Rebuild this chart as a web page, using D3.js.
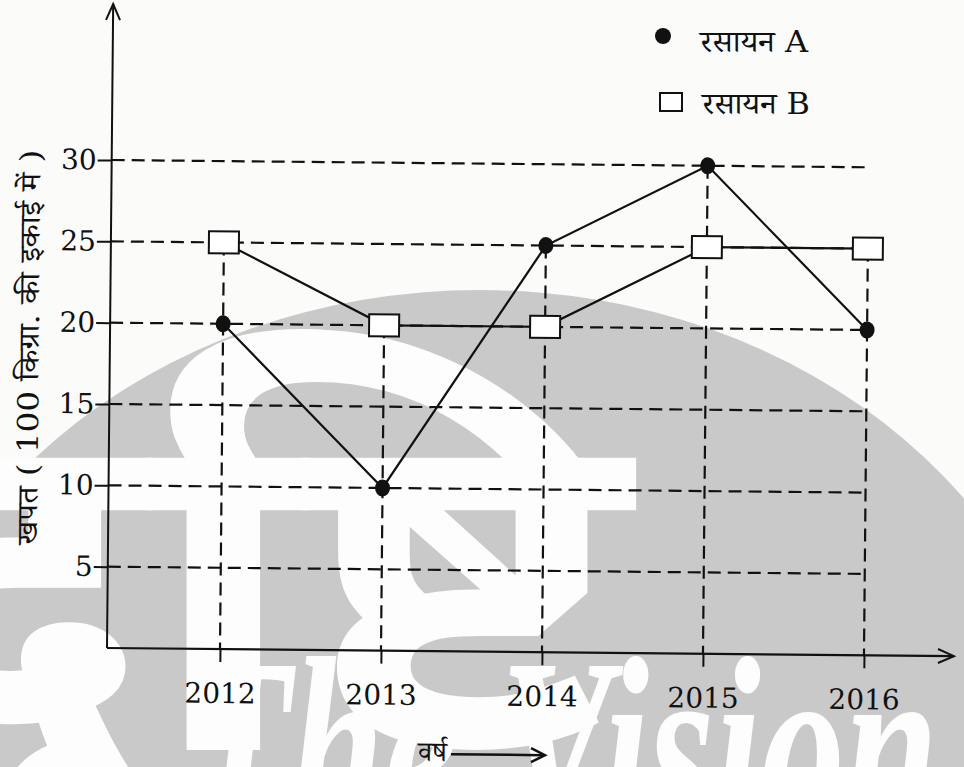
<!DOCTYPE html>
<html><head><meta charset="utf-8">
<script src="https://cdn.jsdelivr.net/npm/d3@7"></script>
<style>body{margin:0;background:#fff}svg{display:block}</style>
</head><body>
<svg id="c" width="964" height="767"></svg>
<script>
const years = ["2012", "2013", "2014", "2015", "2016"];
const chemA = [20, 10, 25, 30, 20];
const chemB = [25, 20, 20, 25, 25];
const yTicks = [5, 10, 15, 20, 25, 30];
const legendLabels = ["रसायन A", "रसायन B"];
const yTitle = "खपत ( 100 किग्रा. की इकाई में )";
const xTitle = "वर्ष";
const wmText1 = "दृष्टि";
const wmText2 = "The Vision";

const serif = "'DejaVu Serif', 'Noto Serif Devanagari', 'Noto Sans Devanagari', serif";
const svg = d3.select("#c");
svg.append("rect").attr("width", 964).attr("height", 767).attr("fill", "#fbfbfa");

// watermark
const wm = svg.append("g");
wm.append("ellipse").attr("cx", 480).attr("cy", 800).attr("rx", 600).attr("ry", 510).attr("fill", "#c9c9c9");
wm.append("text").text(wmText1)
  .attr("transform", "translate(-150,750) scale(1.12,1)")
  .attr("font-family", "'Noto Sans Devanagari', 'Noto Sans', sans-serif").attr("font-weight", "bold")
  .attr("font-size", 470).attr("fill", "#fdfdfd");
wm.append("text").text(wmText2).attr("x", 188).attr("y", 830)
  .attr("font-family", "'Liberation Serif', serif").attr("font-weight", "bold").attr("font-style", "italic")
  .attr("font-size", 250).attr("textLength", 750).attr("lengthAdjust", "spacingAndGlyphs").attr("fill", "#fdfdfd");

const x = d3.scalePoint().domain(years).range([220, 864]);
const y = d3.scaleLinear().domain([0, 30]).range([648, 160]);
const x0 = 107;

const g = svg.append("g").attr("transform", "rotate(0.55," + x0 + "," + y(0) + ")");

const dash = "13,7";
// horizontal grid
g.append("g").selectAll("line").data(yTicks).join("line")
  .attr("x1", x0).attr("x2", x(years[years.length - 1]))
  .attr("y1", d => y(d)).attr("y2", d => y(d))
  .attr("stroke", "#111").attr("stroke-width", 2.2).attr("stroke-dasharray", dash);
// vertical grid
g.append("g").selectAll("line").data(years).join("line")
  .attr("x1", d => x(d)).attr("x2", d => x(d))
  .attr("y1", (d, i) => y(Math.max(chemA[i], chemB[i]))).attr("y2", y(0))
  .attr("stroke", "#111").attr("stroke-width", 2.2).attr("stroke-dasharray", dash);

// y axis
const ya = g.append("g").attr("transform", "translate(" + x0 + ",0)")
  .call(d3.axisLeft(y).tickValues(yTicks).tickSize(14).tickPadding(1));
ya.select(".domain").remove();
ya.selectAll(".tick line").attr("stroke", "#111").attr("stroke-width", 2);
ya.selectAll(".tick text").attr("font-family", serif).attr("font-size", 28).attr("fill", "#111");

// x axis
const xa = g.append("g").attr("transform", "translate(0," + y(0) + ")")
  .call(d3.axisBottom(x).tickSize(13).tickPadding(21));
xa.select(".domain").remove();
xa.selectAll(".tick line").attr("stroke", "#111").attr("stroke-width", 2);
xa.selectAll(".tick text").attr("font-family", serif).attr("font-size", 28).attr("fill", "#111");

// axis lines with arrows
g.append("line").attr("x1", x0).attr("x2", x0).attr("y1", y(0)).attr("y2", 4)
  .attr("stroke", "#111").attr("stroke-width", 2);
g.append("path").attr("d", `M${x0 - 7},20 L${x0},4 L${x0 + 7},20`).attr("fill", "none").attr("stroke", "#111").attr("stroke-width", 2);
g.append("line").attr("x1", x0).attr("x2", 954).attr("y1", y(0)).attr("y2", y(0))
  .attr("stroke", "#111").attr("stroke-width", 2.2);
g.append("path").attr("d", `M938,${y(0) - 7} L954,${y(0)} L938,${y(0) + 7}`).attr("fill", "none").attr("stroke", "#111").attr("stroke-width", 2);

// series lines
const line = d3.line().x((d, i) => x(years[i])).y(d => y(d));
g.append("path").datum(chemA).attr("d", line).attr("fill", "none").attr("stroke", "#111").attr("stroke-width", 2.2);
g.append("path").datum(chemB).attr("d", line).attr("fill", "none").attr("stroke", "#111").attr("stroke-width", 2.2);

// markers
g.append("g").selectAll("rect").data(chemB).join("rect")
  .attr("x", (d, i) => x(years[i]) - 15).attr("y", d => y(d) - 11)
  .attr("width", 30).attr("height", 22).attr("fill", "#fff").attr("stroke", "#111").attr("stroke-width", 2);
g.append("g").selectAll("ellipse").data(chemA).join("ellipse")
  .attr("cx", (d, i) => x(years[i])).attr("cy", d => y(d))
  .attr("rx", 7.5).attr("ry", 8.5).attr("fill", "#111");

// titles
g.append("text").text(yTitle)
  .attr("transform", "translate(36,348) rotate(-90)").attr("text-anchor", "middle")
  .attr("font-family", serif).attr("font-size", 29).attr("textLength", 395).attr("lengthAdjust", "spacingAndGlyphs")
  .attr("fill", "#111");
g.append("text").text(xTitle).attr("x", 419).attr("y", 758)
  .attr("font-family", serif).attr("font-size", 28).attr("fill", "#111");
g.append("line").attr("x1", 452).attr("x2", 544).attr("y1", 751).attr("y2", 751).attr("stroke", "#111").attr("stroke-width", 2.5);
g.append("path").attr("d", "M532,744 L546,751 L532,758").attr("fill", "none").attr("stroke", "#111").attr("stroke-width", 2.5);

// legend
const lg = svg.append("g");
lg.append("circle").attr("cx", 663).attr("cy", 36).attr("r", 8).attr("fill", "#111");
lg.append("rect").attr("x", 660).attr("y", 93).attr("width", 22).attr("height", 18)
  .attr("fill", "#fff").attr("stroke", "#111").attr("stroke-width", 2);
lg.selectAll("text").data(legendLabels).join("text").text(d => d)
  .attr("x", (d, i) => i === 0 ? 700 : 702).attr("y", (d, i) => i === 0 ? 52 : 114)
  .attr("font-family", serif).attr("font-size", 30).attr("textLength", 108).attr("lengthAdjust", "spacingAndGlyphs")
  .attr("fill", "#111");
</script>
</body></html>
